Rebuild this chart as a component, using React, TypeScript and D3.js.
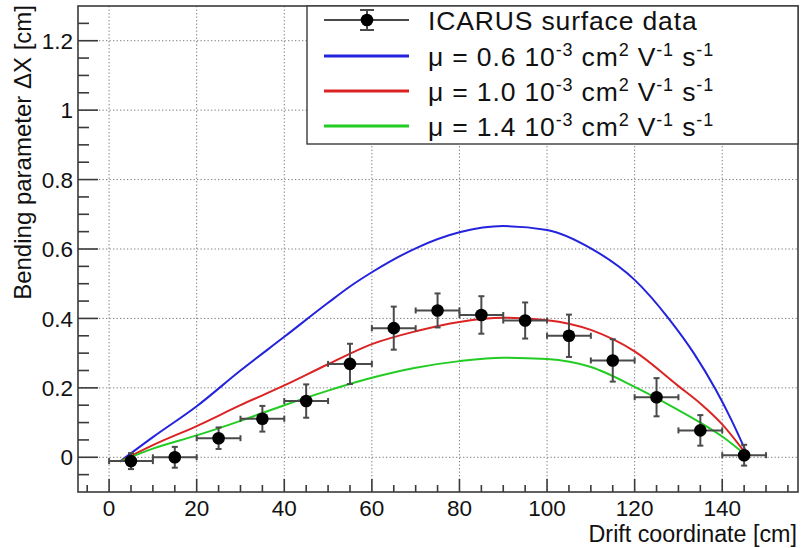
import React from "react";
import * as d3 from "d3";

// ---- data ----
const dataX = [5, 15, 25, 35, 45, 55, 65, 75, 85, 95, 105, 115, 125, 135, 145];
const dataY = [-0.011, 0.0, 0.055, 0.111, 0.162, 0.269, 0.372, 0.423, 0.41, 0.394, 0.35, 0.279, 0.173, 0.0775, 0.006];
const dataYErr = [0.023, 0.03, 0.031, 0.037, 0.048, 0.058, 0.062, 0.049, 0.054, 0.052, 0.061, 0.061, 0.055, 0.044, 0.03];
const dataXErr = [5, 5, 5, 5, 5, 5, 5, 5, 5, 5, 5, 5, 5, 5, 5];

const blueX = [2.5, 10, 20, 30, 40, 50, 55, 60, 70, 80, 90, 100, 110, 120, 128, 133.5, 138.5, 142, 146];
const blueY = [-0.012, 0.058, 0.147, 0.25, 0.347, 0.445, 0.492, 0.533, 0.602, 0.648, 0.666, 0.655, 0.602, 0.511, 0.396, 0.3, 0.195, 0.11, 0.0];

const redX = [2.5, 10, 20, 30, 40, 50, 60, 70, 80, 90, 100, 110, 120, 130, 135, 140, 146];
const redY = [-0.012, 0.035, 0.09, 0.15, 0.207, 0.268, 0.326, 0.363, 0.39, 0.402, 0.395, 0.367, 0.305, 0.205, 0.155, 0.095, 0.0];

const greenX = [2.5, 10, 20, 30, 40, 50, 60, 70, 80, 90, 100, 110, 120, 130, 135, 140, 146];
const greenY = [-0.012, 0.025, 0.063, 0.105, 0.15, 0.192, 0.229, 0.258, 0.277, 0.287, 0.283, 0.26, 0.203, 0.136, 0.1, 0.06, 0.0];

const xMajorTicks = [0, 20, 40, 60, 80, 100, 120, 140];
const yMajorTicks = [0, 0.2, 0.4, 0.6, 0.8, 1, 1.2];
const yTickLabels = ["0", "0.2", "0.4", "0.6", "0.8", "1", "1.2"];

const legendMu = ["0.6", "1.0", "1.4"];
const curveColors = ["#2323dc", "#dc2323", "#23cc23"];

const W = 803;
const H = 548;
const FONT = "'Liberation Sans', Arial, Helvetica, sans-serif";

export default function App() {
  const x = d3.scaleLinear().domain([-7.1, 157.3]).range([78, 798]);
  const y = d3.scaleLinear().domain([-0.1, 1.3]).range([492, 6]);
  const [x0, x1] = x.range();
  const [y0, y1] = y.range();

  const xMinor = d3.range(-5, 157, 5).filter((v) => v % 20 !== 0);
  const yMinor = d3
    .range(-0.05, 1.3, 0.05)
    .map((v) => Math.round(v * 100) / 100)
    .filter((v) => Math.abs(Math.round(v * 5) - v * 5) > 1e-6);

  const line = d3
    .line<[number, number]>()
    .x((d) => x(d[0]))
    .y((d) => y(d[1]))
    .curve(d3.curveMonotoneX);

  const curves = [
    { xs: blueX, ys: blueY },
    { xs: redX, ys: redY },
    { xs: greenX, ys: greenY },
  ];

  const errColor = "#4a4a4a";
  const cap = 3;

  const legRowY = [20, 56, 91, 126];
  const legLineX0 = 324;
  const legLineX1 = 409;
  const legTextX = 428;
  const legFont = 26.5;
  const legLS = 0.85;

  return (
    <svg
      width={W}
      height={H}
      style={{ position: "absolute", left: 0, top: 0, background: "#fff" }}
      fontFamily={FONT}
    >
      <rect x={0} y={0} width={W} height={H} fill="#fff" />
      {/* grid */}
      <g stroke="#7a7a7a" strokeWidth={1} strokeDasharray="1.3,2.2">
        {xMajorTicks.map((t) => (
          <line key={"gx" + t} x1={x(t)} x2={x(t)} y1={y1} y2={y0} />
        ))}
        {yMajorTicks.map((t) => (
          <line key={"gy" + t} x1={x0} x2={x1} y1={y(t)} y2={y(t)} />
        ))}
      </g>

      {/* curves */}
      {curves.map((c, i) => (
        <path
          key={"c" + i}
          d={line(c.xs.map((v, j) => [v, c.ys[j]] as [number, number])) || ""}
          fill="none"
          stroke={curveColors[i]}
          strokeWidth={2}
        />
      ))}

      {/* data error bars */}
      <g stroke={errColor} strokeWidth={2}>
        {dataX.map((v, i) => {
          const cx = x(v);
          const cy = y(dataY[i]);
          const xl = x(v - dataXErr[i]);
          const xr = x(v + dataXErr[i]);
          const yt = y(dataY[i] + dataYErr[i]);
          const yb = y(dataY[i] - dataYErr[i]);
          return (
            <g key={"e" + i}>
              <line x1={xl} x2={xr} y1={cy} y2={cy} />
              <line x1={cx} x2={cx} y1={yt} y2={yb} />
              <line x1={xl} x2={xl} y1={cy - cap} y2={cy + cap} />
              <line x1={xr} x2={xr} y1={cy - cap} y2={cy + cap} />
              <line x1={cx - cap} x2={cx + cap} y1={yt} y2={yt} />
              <line x1={cx - cap} x2={cx + cap} y1={yb} y2={yb} />
            </g>
          );
        })}
      </g>
      {dataX.map((v, i) => (
        <circle key={"p" + i} cx={x(v)} cy={y(dataY[i])} r={6.3} fill="#000" />
      ))}

      {/* frame */}
      <rect x={x0} y={y1} width={x1 - x0} height={y0 - y1} fill="none" stroke="#3a3a3a" strokeWidth={1.6} />

      {/* ticks */}
      <g stroke="#3a3a3a" strokeWidth={1.6}>
        {xMajorTicks.map((t) => (
          <line key={"tx" + t} x1={x(t)} x2={x(t)} y1={y0} y2={y0 - 13} />
        ))}
        {xMinor.map((t) => (
          <line key={"mx" + t} x1={x(t)} x2={x(t)} y1={y0} y2={y0 - 7} />
        ))}
        {yMajorTicks.map((t) => (
          <line key={"ty" + t} x1={x0} x2={x0 + 20} y1={y(t)} y2={y(t)} />
        ))}
        {yMinor.map((t) => (
          <line key={"my" + t} x1={x0} x2={x0 + 11} y1={y(t)} y2={y(t)} />
        ))}
      </g>

      {/* tick labels */}
      <g fontSize={22.5} fill="#111">
        {xMajorTicks.map((t) => (
          <text key={"lx" + t} x={x(t)} y={516} textAnchor="middle">
            {t}
          </text>
        ))}
        {yMajorTicks.map((t, i) => (
          <text key={"ly" + t} x={73} y={y(t)} dy="0.36em" textAnchor="end">
            {yTickLabels[i]}
          </text>
        ))}
      </g>

      {/* axis titles */}
      <text x={797} y={542} fontSize={23.3} textAnchor="end" fill="#111">
        Drift coordinate [cm]
      </text>
      <text transform="translate(31,5) rotate(-90)" fontSize={24} textAnchor="end" fill="#111">
        Bending parameter ΔX [cm]
      </text>

      {/* legend */}
      <rect x={307} y={6} width={491} height={138} fill="#fff" stroke="#3a3a3a" strokeWidth={1.4} />
      <g>
        <line x1={legLineX0} x2={legLineX1} y1={legRowY[0]} y2={legRowY[0]} stroke={errColor} strokeWidth={2} />
        <line x1={367} x2={367} y1={legRowY[0] - 10} y2={legRowY[0] + 10} stroke={errColor} strokeWidth={2} />
        <line x1={360} x2={374} y1={legRowY[0] - 10} y2={legRowY[0] - 10} stroke={errColor} strokeWidth={2} />
        <line x1={360} x2={374} y1={legRowY[0] + 10} y2={legRowY[0] + 10} stroke={errColor} strokeWidth={2} />
        <circle cx={367} cy={legRowY[0]} r={6.3} fill="#000" />
        <text x={legTextX} y={legRowY[0]} dy="0.36em" fontSize={legFont} letterSpacing={legLS} fill="#111">
          ICARUS surface data
        </text>
        {legendMu.map((m, i) => (
          <g key={"leg" + i}>
            <line
              x1={legLineX0}
              x2={legLineX1}
              y1={legRowY[i + 1]}
              y2={legRowY[i + 1]}
              stroke={curveColors[i]}
              strokeWidth={3}
            />
            <text
              x={legTextX}
              y={legRowY[i + 1]}
              dy="0.36em"
              fontSize={legFont}
              letterSpacing={legLS}
              fill="#111"
            >
              {"μ = " + m + " 10"}
              <tspan dy={-10} fontSize={18}>-3</tspan>
              <tspan dy={10}>{" cm"}</tspan>
              <tspan dy={-10} fontSize={18}>2</tspan>
              <tspan dy={10}>{" V"}</tspan>
              <tspan dy={-10} fontSize={18}>-1</tspan>
              <tspan dy={10}>{" s"}</tspan>
              <tspan dy={-10} fontSize={18}>-1</tspan>
            </text>
          </g>
        ))}
      </g>
    </svg>
  );
}
